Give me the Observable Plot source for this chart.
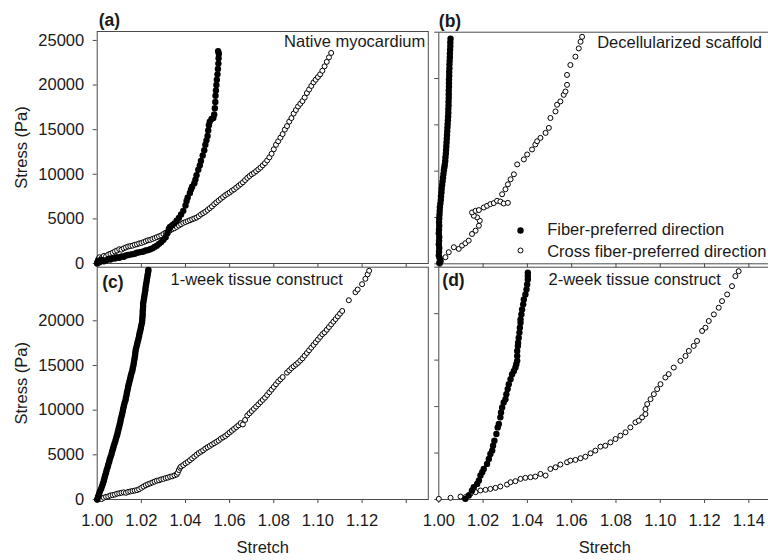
<!DOCTYPE html>
<html><head><meta charset="utf-8">
<script src="https://cdn.jsdelivr.net/npm/d3@7"></script>
<script src="https://cdn.jsdelivr.net/npm/@observablehq/plot@0.6"></script>
<style>
body{margin:0;background:#fff;}
#chart{position:relative;width:768px;height:560px;overflow:hidden;font-family:"Liberation Sans",Arial,sans-serif;}
#chart svg{position:absolute;left:0;top:0;}
</style></head><body><div id="chart"></div>
<script>
// ---- tick labels ----
const xTicks = [1.00, 1.02, 1.04, 1.06, 1.08, 1.10, 1.12, 1.14];
const xLabelsC = [1.00, 1.02, 1.04, 1.06, 1.08, 1.10, 1.12];
const xLabelsD = [1.00, 1.02, 1.04, 1.06, 1.08, 1.10, 1.12, 1.14];
const yTicks = [0, 5000, 10000, 15000, 20000, 25000];
const yLabelsA = [0, 5000, 10000, 15000, 20000, 25000];
const yLabelsC = [0, 5000, 10000, 15000, 20000];
const panelTags = ["(a)", "(b)", "(c)", "(d)"];
const panelTitles = ["Native myocardium", "Decellularized scaffold", "1-week tissue construct", "2-week tissue construct"];
const legendLabels = ["Fiber-preferred direction", "Cross fiber-preferred direction"];

// ---- data: [stretch, stress (Pa)] ----
const aFiber = [[1.000,0],[1.0005,300],[1.001,150],[1.002,400],[1.003,250],[1.004,350],[1.005,500],[1.006,450],[1.007,600],[1.008,550],[1.009,700],[1.010,650],[1.011,800],[1.012,750],[1.013,900],[1.014,950],[1.015,1000],[1.016,1050],[1.017,1100],[1.018,1200],[1.019,1250],[1.020,1300],[1.021,1350],[1.022,1450],[1.023,1500],[1.024,1600],[1.025,1700],[1.026,1850],[1.027,2000],[1.028,2200],[1.029,2400],[1.030,2650],[1.031,2950],[1.0318,3400],[1.0325,3900],[1.033,4100],[1.034,4300],[1.035,4500],[1.036,4800],[1.037,5100],[1.038,5500],[1.039,5900],[1.040,6500],[1.0405,7000],[1.041,7400],[1.042,7900],[1.0425,8300],[1.043,8600],[1.044,9000],[1.0445,9400],[1.045,9900],[1.0458,10500],[1.0465,11000],[1.047,11500],[1.0478,12100],[1.0485,12700],[1.049,13300],[1.0495,13800],[1.050,14300],[1.0503,14900],[1.0506,15500],[1.051,15900],[1.0518,16200],[1.0526,16300],[1.053,16700],[1.0533,17400],[1.0535,18100],[1.0536,18800],[1.0538,19400],[1.054,20000],[1.0542,20600],[1.0545,21200],[1.0547,21800],[1.0549,22400],[1.055,23000],[1.0551,23500],[1.0548,23800]];
const aCross = [[1.000,200],[1.0005,500],[1.001,700],[1.002,600],[1.003,850],[1.004,800],[1.005,1000],[1.006,1100],[1.007,1200],[1.008,1350],[1.009,1450],[1.010,1600],[1.011,1550],[1.012,1700],[1.013,1800],[1.014,1900],[1.015,1950],[1.016,2000],[1.017,2100],[1.018,2150],[1.019,2250],[1.020,2300],[1.021,2400],[1.022,2500],[1.023,2600],[1.024,2650],[1.025,2750],[1.026,2850],[1.027,2950],[1.028,3050],[1.029,3150],[1.030,3300],[1.031,3450],[1.032,3550],[1.033,3700],[1.034,3850],[1.035,3950],[1.036,4100],[1.037,4250],[1.038,4400],[1.039,4550],[1.040,4650],[1.041,4750],[1.042,4850],[1.043,4950],[1.044,5050],[1.045,5150],[1.046,5300],[1.047,5500],[1.048,5650],[1.049,5800],[1.050,6000],[1.051,6200],[1.052,6400],[1.053,6650],[1.054,6850],[1.055,7050],[1.056,7250],[1.057,7450],[1.058,7650],[1.059,7800],[1.060,7950],[1.061,8150],[1.062,8300],[1.063,8500],[1.064,8700],[1.065,8900],[1.066,9100],[1.067,9350],[1.068,9600],[1.069,9800],[1.070,10000],[1.071,10150],[1.072,10350],[1.073,10550],[1.074,10750],[1.075,11000],[1.076,11250],[1.077,11550],[1.078,11900],[1.079,12300],[1.080,12800],[1.081,13300],[1.082,13700],[1.083,14100],[1.084,14500],[1.085,15000],[1.086,15400],[1.087,15900],[1.088,16300],[1.089,16800],[1.090,17200],[1.091,17600],[1.092,17900],[1.093,18200],[1.094,18600],[1.095,19100],[1.096,19500],[1.097,19900],[1.098,20300],[1.099,20600],[1.100,20900],[1.101,21200],[1.102,21600],[1.103,22100],[1.104,22600],[1.105,23100],[1.106,23600]];
const bFiber = [[1.0002,100],[1.0008,300],[1.0004,600],[1.0000,900],[1.0001,1300],[1.0002,1700],[1.0000,2100],[1.0001,2500],[1.0002,2900],[1.0000,3300],[1.0001,3700],[1.0002,4100],[1.0001,4500],[1.0002,4900],[1.0003,5300],[1.0004,5700],[1.0005,6100],[1.0007,6500],[1.0009,6900],[1.0010,7300],[1.0012,7700],[1.0013,8100],[1.0015,8500],[1.0017,8900],[1.0019,9300],[1.0021,9700],[1.0023,10100],[1.0025,10400],[1.0027,10700],[1.0029,11100],[1.0030,11500],[1.0032,11900],[1.0033,12300],[1.0034,12700],[1.0035,13100],[1.0036,13500],[1.0037,13900],[1.0038,14300],[1.0039,14700],[1.0040,15100],[1.0041,15500],[1.0042,15900],[1.0043,16300],[1.0043,16700],[1.0044,17100],[1.0044,17500],[1.0045,17900],[1.0045,18300],[1.0045,18700],[1.0046,19100],[1.0046,19500],[1.0046,19900],[1.0047,20300],[1.0047,20700],[1.0048,21100],[1.0048,21500],[1.0049,21900],[1.0050,22300],[1.0050,22700],[1.0051,23100],[1.0052,23500],[1.0052,23900],[1.0053,24300]];
const bCross = [[1.0005,0],[1.0030,715],[1.0045,1250],[1.0068,1790],[1.0090,1610],[1.0105,1970],[1.0120,2220],[1.0135,2500],[1.0150,3220],[1.0166,3580],[1.0181,4110],[1.0185,4650],[1.0173,5010],[1.0158,5190],[1.0150,5540],[1.0166,5720],[1.0181,5800],[1.0203,6080],[1.0218,6260],[1.0233,6440],[1.0248,6550],[1.0263,6800],[1.0278,6720],[1.0293,6510],[1.0312,6580],[1.0286,7510],[1.0301,8050],[1.0312,8580],[1.0324,9120],[1.0339,9660],[1.0354,10730],[1.0384,11270],[1.0399,11800],[1.0421,12340],[1.0436,12880],[1.0444,13230],[1.0459,13590],[1.0482,14130],[1.0497,14670],[1.0504,15740],[1.0527,16450],[1.0534,17170],[1.0549,17530],[1.0564,18240],[1.0572,18600],[1.0579,19320],[1.0579,20390],[1.0594,21460],[1.0617,22360],[1.0632,23250],[1.0640,23970],[1.0647,24500]];
const cFiber = [[1.0000,0],[1.0004,300],[1.0008,600],[1.0012,900],[1.0018,1200],[1.0022,1500],[1.0026,1800],[1.0030,2100],[1.0033,2400],[1.0036,2700],[1.0040,3000],[1.0043,3300],[1.0047,3600],[1.0050,3900],[1.0054,4200],[1.0057,4500],[1.0061,4800],[1.0065,5100],[1.0068,5400],[1.0072,5700],[1.0075,6000],[1.0079,6300],[1.0083,6600],[1.0086,6900],[1.0090,7200],[1.0093,7500],[1.0096,7800],[1.0099,8100],[1.0102,8400],[1.0105,8700],[1.0107,9000],[1.0110,9300],[1.0113,9600],[1.0116,9900],[1.0118,10200],[1.0121,10500],[1.0124,10800],[1.0128,11100],[1.0130,11400],[1.0133,11700],[1.0135,12000],[1.0138,12300],[1.0140,12600],[1.0143,12900],[1.0146,13200],[1.0149,13500],[1.0152,13800],[1.0155,14100],[1.0159,14400],[1.0161,14700],[1.0164,15000],[1.0166,15300],[1.0168,15600],[1.0170,15900],[1.0172,16200],[1.0173,16500],[1.0175,16800],[1.0178,17100],[1.0181,17400],[1.0184,17700],[1.0187,18000],[1.0190,18300],[1.0192,18600],[1.0195,18900],[1.0198,19200],[1.0200,19500],[1.0203,19800],[1.0204,20100],[1.0205,20400],[1.0206,20700],[1.0206,21000],[1.0207,21300],[1.0208,21600],[1.0208,21900],[1.0210,22200],[1.0212,22500],[1.0214,22800],[1.0216,23100],[1.0218,23400],[1.0219,23700],[1.0221,24000],[1.0223,24300],[1.0225,24600],[1.0227,24900],[1.0229,25200],[1.0231,25500],[1.0232,25700]];
const cCross = [[1.000,0],[1.001,100],[1.002,50],[1.003,200],[1.004,300],[1.005,350],[1.006,450],[1.007,500],[1.008,550],[1.009,650],[1.010,700],[1.011,750],[1.012,800],[1.013,750],[1.014,850],[1.015,900],[1.016,950],[1.017,1000],[1.018,1050],[1.019,1150],[1.020,1300],[1.021,1450],[1.022,1600],[1.023,1700],[1.024,1800],[1.025,1900],[1.026,2000],[1.027,2100],[1.028,2150],[1.029,2250],[1.030,2300],[1.031,2400],[1.032,2450],[1.033,2550],[1.034,2600],[1.035,2700],[1.036,2800],[1.0365,3000],[1.037,3300],[1.0375,3550],[1.038,3700],[1.039,3850],[1.040,4050],[1.041,4200],[1.042,4400],[1.043,4600],[1.044,4800],[1.045,5000],[1.046,5200],[1.047,5350],[1.048,5500],[1.049,5700],[1.050,5850],[1.051,6000],[1.052,6150],[1.053,6300],[1.054,6450],[1.055,6600],[1.056,6800],[1.057,6950],[1.058,7100],[1.059,7300],[1.060,7500],[1.061,7700],[1.062,7900],[1.063,8100],[1.064,8300],[1.065,8550],[1.066,8400],[1.067,8900],[1.068,9400],[1.069,9650],[1.070,9900],[1.071,10150],[1.072,10400],[1.073,10650],[1.074,10900],[1.075,11150],[1.076,11400],[1.077,11700],[1.078,12000],[1.079,12300],[1.080,12600],[1.081,12900],[1.082,13200],[1.083,13450],[1.084,13700],[1.086,14200],[1.087,14450],[1.088,14700],[1.089,14900],[1.090,15100],[1.091,15300],[1.092,15550],[1.093,15800],[1.094,16100],[1.095,16400],[1.096,16700],[1.097,17000],[1.098,17300],[1.099,17600],[1.100,17900],[1.101,18200],[1.102,18500],[1.103,18700],[1.104,19000],[1.105,19300],[1.106,19600],[1.107,19900],[1.108,20200],[1.109,20500],[1.110,20800],[1.111,21100],[1.114,22300],[1.117,23200],[1.118,23500],[1.120,24100],[1.1215,24700],[1.1225,25200],[1.1232,25600]];
const dFiber = [[1.0120,70],[1.0135,430],[1.0150,970],[1.0158,1320],[1.0173,1680],[1.0181,2040],[1.0188,2580],[1.0196,2930],[1.0203,3290],[1.0218,3830],[1.0226,4360],[1.0233,4900],[1.0241,5260],[1.0245,5790],[1.0251,6330],[1.0260,7050],[1.0266,7760],[1.0271,8120],[1.0278,8840],[1.0281,9370],[1.0286,9910],[1.0293,10450],[1.0301,10800],[1.0305,11340],[1.0311,11880],[1.0316,12410],[1.0324,12950],[1.0331,13480],[1.0339,13840],[1.0346,14200],[1.0350,14560],[1.0354,14920],[1.0354,15450],[1.0354,15990],[1.0357,16530],[1.0358,16880],[1.0361,17420],[1.0364,17960],[1.0366,18490],[1.0369,19030],[1.0369,19390],[1.0373,19920],[1.0376,20460],[1.0381,21000],[1.0384,21530],[1.0391,22070],[1.0396,22600],[1.0399,23140],[1.0402,23680],[1.0402,24040],[1.0402,24400]];
const dCross = [[1.0000,70],[1.0053,180],[1.0098,320],[1.0120,250],[1.0143,610],[1.0166,790],[1.0188,970],[1.0211,1040],[1.0233,1140],[1.0256,1250],[1.0278,1400],[1.0308,1610],[1.0324,1860],[1.0346,1970],[1.0369,2220],[1.0391,2330],[1.0414,2400],[1.0436,2470],[1.0459,2750],[1.0482,2580],[1.0504,3290],[1.0527,3470],[1.0549,3760],[1.0579,4010],[1.0594,4190],[1.0617,4260],[1.0640,4440],[1.0662,4610],[1.0685,4970],[1.0707,5260],[1.0730,5690],[1.0752,5790],[1.0775,6150],[1.0798,6510],[1.0820,6870],[1.0843,7230],[1.0865,7760],[1.0888,8300],[1.0903,8480],[1.0918,8840],[1.0933,9190],[1.0933,9730],[1.0941,10270],[1.0956,10800],[1.0971,11340],[1.0986,11880],[1.1001,12410],[1.1023,13130],[1.1038,13490],[1.1061,14200],[1.1091,14920],[1.1114,15450],[1.1129,15990],[1.1151,16530],[1.1166,17060],[1.1189,18140],[1.1204,18490],[1.1219,19210],[1.1242,19920],[1.1264,20640],[1.1279,21350],[1.1302,22070],[1.1324,22960],[1.1339,24040],[1.1354,24570]];

const FONT = '"Liberation Sans", Arial, Helvetica, sans-serif';
const INK = "#1a1a1a";
const FS = 16.5;
const near = (arr, d) => arr.some(v => Math.abs(v - d) < 1e-9);

function panel(cfg) {
  const [x0, x1] = cfg.xr, [y0, y1] = cfg.yr;
  const marks = [
    Plot.frame({stroke: "#4a4a4a", strokeWidth: 1}),
    Plot.axisX(xTicks, {anchor: "bottom", tickSize: 4, tickPadding: 11, stroke: "#4a4a4a", fill: INK, fontSize: FS,
      tickFormat: d => near(cfg.xLabels, d) ? d.toFixed(2) : "", label: null}),
    Plot.axisY(cfg.yTicks, {anchor: "left", tickSize: 4, tickPadding: 9, stroke: "#4a4a4a", fill: INK, fontSize: FS,
      tickFormat: d => near(cfg.yLabels, d) ? String(d) : "", label: null}),
    Plot.dot(cfg.cross, {x: d => d[0], y: d => d[1], r: 2.5, stroke: "#000", strokeWidth: 1, fill: "#fff"}),
    Plot.dot(cfg.fiber, {x: d => d[0], y: d => d[1], r: 3.2, fill: "#000", stroke: "none"}),
    Plot.text([cfg.tag], {frameAnchor: "top-left", textAnchor: "start", lineAnchor: "middle", dx: cfg.tagD[0], dy: cfg.tagD[1], fontWeight: "bold", fontSize: 17.5, fill: INK}),
    Plot.text([cfg.title], {frameAnchor: cfg.titleAnchor, textAnchor: cfg.titleAnchor === "top-right" ? "end" : "start", lineAnchor: "middle", dx: cfg.titleD[0], dy: cfg.titleD[1], fontSize: FS, fill: INK})
  ];
  if (cfg.yTitle) marks.push(Plot.text(["Stress (Pa)"], {frameAnchor: "left", rotate: -90, lineAnchor: "middle", textAnchor: "middle", dx: -75, fontSize: FS, fill: INK}));
  if (cfg.xTitle) marks.push(Plot.text(["Stretch"], {frameAnchor: "bottom", lineAnchor: "middle", textAnchor: "middle", dy: 48, fontSize: FS, fill: INK}));
  if (cfg.legend) {
    marks.push(Plot.dot([legendLabels[0]], {frameAnchor: "bottom-left", dx: 81.7, dy: -33.3, r: 3.2, fill: "#000"}));
    marks.push(Plot.dot([legendLabels[1]], {frameAnchor: "bottom-left", dx: 81.7, dy: -13.3, r: 2.5, stroke: "#000", strokeWidth: 1, fill: "#fff"}));
    marks.push(Plot.text([legendLabels[0]], {frameAnchor: "bottom-left", textAnchor: "start", lineAnchor: "middle", dx: 108.4, dy: -34, fontSize: FS, fill: INK}));
    marks.push(Plot.text([legendLabels[1]], {frameAnchor: "bottom-left", textAnchor: "start", lineAnchor: "middle", dx: 108.4, dy: -12.5, fontSize: FS, fill: INK}));
  }
  return Plot.plot({
    width: 768, height: 560,
    marginLeft: x0, marginRight: 768 - x1, marginTop: y0, marginBottom: 560 - y1,
    x: {domain: [1, 1.15]},
    y: {domain: cfg.ydom},
    style: {background: "transparent", overflow: "visible", fontFamily: FONT, fontSize: FS + "px", color: INK},
    marks
  });
}

const chart = document.getElementById("chart");
chart.append(panel({xr: [96.7, 427.8], yr: [31, 263], ydom: [0, 26000], yTicks, yLabels: yLabelsA, xLabels: [],
  fiber: aFiber, cross: aCross, tag: panelTags[0], tagD: [1.5, -11], title: panelTitles[0], titleAnchor: "top-right", titleD: [-3, 10], yTitle: true}));
chart.append(panel({xr: [438.3, 770.5], yr: [31.7, 263.3], ydom: [0, 25000], yTicks, yLabels: [], xLabels: [],
  fiber: bFiber, cross: bCross, tag: panelTags[1], tagD: [0, -11], title: panelTitles[1], titleAnchor: "top-right", titleD: [-9, 11], legend: true}));
chart.append(panel({xr: [96.7, 427.8], yr: [266.7, 499], ydom: [0, 26000], yTicks: yLabelsC, yLabels: yLabelsC, xLabels: xLabelsC,
  fiber: cFiber, cross: cCross, tag: panelTags[2], tagD: [5, 15], title: panelTitles[2], titleAnchor: "top-left", titleD: [73.3, 12.3], yTitle: true, xTitle: true}));
chart.append(panel({xr: [438.3, 770.5], yr: [266.7, 499], ydom: [0, 25000], yTicks, yLabels: [], xLabels: xLabelsD,
  fiber: dFiber, cross: dCross, tag: panelTags[3], tagD: [3.5, 13.3], title: panelTitles[3], titleAnchor: "top-left", titleD: [109.7, 12.8], xTitle: true}));
</script></body></html>
